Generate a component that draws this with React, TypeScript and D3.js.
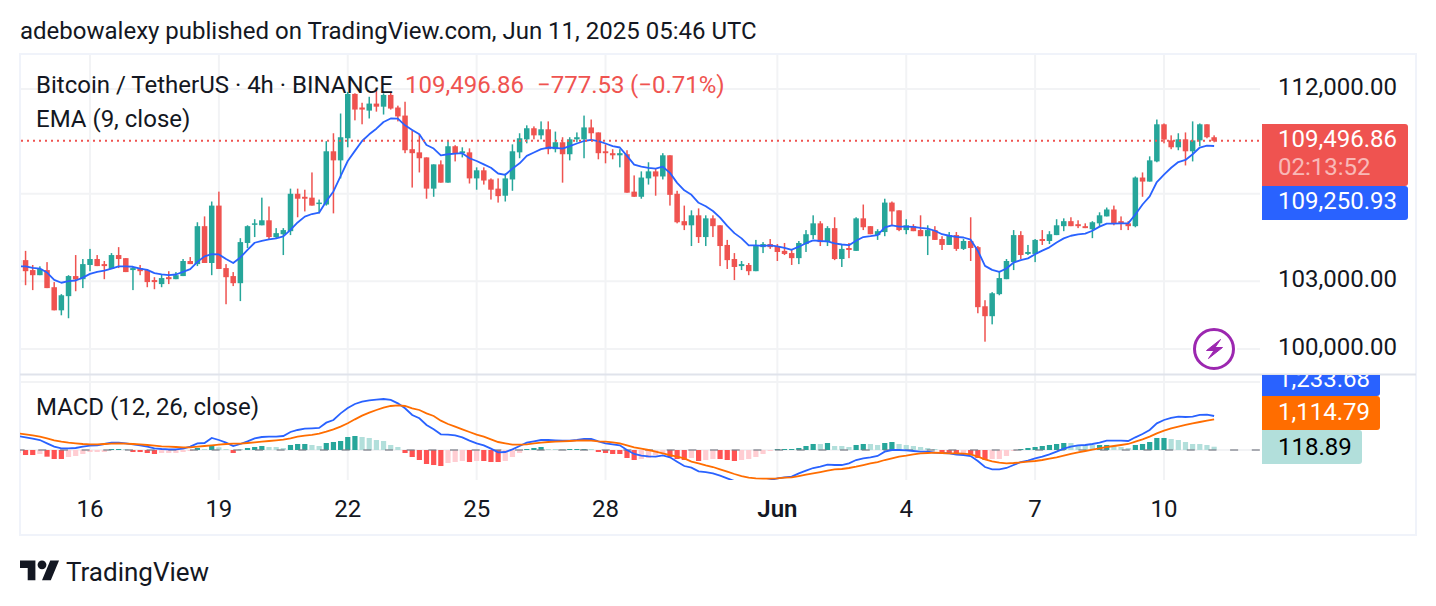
import React from "react";
import * as d3 from "d3";

const firstBar = -10;
const priceOpen = [
103670,103950,103500,103270,103500,102730,101700,102330,103230,103090,
103730,104000,103770,103550,104180,104040,103500,103590,103500,103050,
102870,103180,103090,103230,103910,103770,105500,103820,106450,103590,
103230,102910,104730,105590,105540,105770,105000,105130,105270,107000,
106860,106820,106540,106500,109000,108570,109620,111760,111100,110950,
111290,111140,111710,111100,110710,109100,108950,108710,107240,108380,
107520,109240,108910,108950,107720,108100,107670,107240,106910,107670,
108950,109570,110100,109760,110050,109100,109430,108860,109570,109570,
110140,109900,109000,108910,108810,108860,107100,106860,107720,108050,
107810,108810,107000,105730,105540,106000,105000,105860,105540,104640,
104000,103680,103730,103450,104540,104680,104590,104370,104270,104040,
104680,105090,105630,104770,105410,104000,104500,104370,105860,105500,
105090,105230,106590,106230,105320,105500,105320,105040,105320,104910,
104640,105090,104460,104820,104540,101880,101440,102420,103090,103860,
105090,104230,104230,104910,104820,105090,105500,105730,105590,105500,
105360,105630,105950,106270,105730,105630,105500,107760,107570,108520,
110290,109520,109190,109570,109000,109520,110290,109670];
const priceHigh = [
104000,104370,103730,103670,103860,102960,102420,103270,104180,104000,
104460,104180,103910,104270,104540,104040,103640,103730,103550,103180,
103320,103450,103410,104000,104090,105680,105950,106640,107100,103770,
103410,104950,105540,105820,106820,106410,105410,105410,107240,107240,
107190,108000,106730,109480,109860,110810,111860,111790,111330,111620,
111950,111790,111860,111190,111380,110000,109810,108710,108380,108570,
109520,109290,109190,109140,108240,108240,107720,107720,107950,109330,
109860,110240,110190,110430,110430,109940,109670,109670,109900,110710,
110520,109900,109330,109100,109100,109050,107860,108050,108480,108190,
108910,108810,107140,106450,106230,106320,106000,106000,105540,104870,
104270,103910,103820,104870,104770,104910,104680,104730,104460,104820,
105320,106000,105730,105500,105910,104640,104730,105910,106500,105500,
105360,106770,106640,106230,105820,105590,106000,105540,105500,105040,
105230,105230,104910,105910,104590,102150,102510,103410,104000,105320,
105270,104640,104910,105320,105270,105820,105860,105910,105770,105630,
105730,106140,106360,106450,105950,105730,107810,108000,108760,110520,
110330,109760,109860,109900,110430,110330,110290,109760];
const priceLow = [
103550,102820,102600,103270,102690,101700,101480,101350,102550,102690,
103450,103680,103090,103550,103590,103410,102600,103270,102730,102640,
102730,102870,103090,103230,103770,103680,103820,103270,103550,101970,
102780,102110,104500,105000,105540,104910,104910,104180,105090,105910,
106180,106450,106090,106450,106090,107720,109190,110480,110290,110570,
110900,110760,111000,110430,108910,107290,108000,106770,106860,107520,
107520,108520,108710,107480,107190,107430,106730,106590,106640,107140,
108670,109380,109570,109570,108860,108950,107520,108570,109430,108670,
109570,108620,108430,108620,108240,107050,106860,106770,107430,106910,
107670,106450,105630,105320,104590,104730,104590,105000,103680,103550,
103050,103500,103270,103450,104270,104460,103910,104180,103730,103770,
104320,104910,104590,104590,103950,103640,104040,104370,105320,105130,
104870,105040,105540,105270,105130,105270,105040,104180,104870,104410,
104640,104370,104410,103910,101570,100320,101080,102370,103090,103500,
104000,104180,103860,104640,104680,105090,105270,105500,105410,105410,
104950,105500,105950,105540,105320,105320,105450,106860,107570,108480,
109380,109100,109050,108330,108520,109240,109620,109430];
const priceClose = [
103950,103450,103270,103550,102690,101700,102370,103230,103080,103770,
104000,103680,103680,104180,104000,103410,103590,103450,102960,102960,
103140,103090,103270,103910,103770,105500,103820,106450,103550,103180,
102910,104770,105500,105630,105770,105000,105180,105320,107000,106770,
106770,106450,106590,109000,108570,109670,111760,111000,111000,111290,
111140,111710,111050,110670,109050,108910,108670,107240,108380,107520,
109240,108910,109000,107720,108100,107620,107190,106890,107720,109000,
109620,110100,109760,110050,109100,109430,108860,109570,109670,110140,
109860,108910,108910,108810,108910,107050,106860,107760,108050,107810,
108810,106950,105680,105540,106000,105000,105860,105500,104590,103950,
103640,103770,103450,104590,104680,104540,104320,104230,104040,104730,
105130,105630,104770,105410,104000,104460,104410,105860,105450,105130,
105270,106590,106180,105320,105540,105270,105040,105320,104870,104640,
105090,104460,104820,104500,101840,101440,102460,103140,103910,105090,
104180,104320,104870,104820,105130,105540,105730,105500,105500,105410,
105680,106000,106270,105630,105630,105500,107760,107570,108570,110290,
109560,109190,109570,109000,109520,110290,109670,109497];
const emaValues = [
103670,103670,103600,103570,103390,103060,102930,103000,103030,103160,
103330,103420,103480,103570,103670,103670,103650,103570,103510,103360,
103310,103270,103300,103420,103540,103870,104120,104220,104210,104000,
103820,104070,104420,104740,104830,104890,104940,105030,105330,105670,
105940,106060,106120,106650,107110,107830,108540,109020,109490,109810,
110080,110400,110570,110560,110240,110020,109810,109300,109130,108810,
108860,108890,108910,108670,108540,108380,108220,107950,107890,108180,
108430,108780,108940,109100,109180,109160,109130,109250,109370,109490,
109540,109480,109370,109250,109180,108780,108370,108270,108210,108180,
108270,107980,107510,107160,106950,106580,106420,106200,105890,105510,
105180,104940,104620,104620,104600,104620,104570,104510,104420,104560,
104720,104850,104820,104800,104710,104660,104630,104830,105000,105040,
105090,105440,105540,105480,105480,105470,105420,105390,105290,105130,
105060,105010,104980,104880,104380,103690,103510,103420,103570,103840,
103950,104030,104220,104380,104530,104750,104940,105060,105120,105160,
105290,105480,105620,105620,105630,105630,106040,106500,106880,107550,
107900,108220,108490,108590,108860,109180,109270,109251];
const macdValues = [
508,460,411,363,242,121,60,60,73,121,
157,169,218,266,266,242,206,169,121,60,
36,24,24,48,121,242,254,436,363,266,
145,218,315,424,472,484,484,508,653,726,
774,787,799,992,1089,1331,1525,1670,1755,1803,
1827,1851,1815,1694,1513,1271,1150,908,750,569,
557,532,460,339,242,169,48,-85,-73,24,
145,266,315,363,363,351,339,339,363,399,
399,315,242,206,169,0,-145,-206,-230,-242,
-194,-266,-424,-581,-641,-774,-799,-847,-932,-1029,
-1125,-1210,-1258,-1246,-1150,-1089,-1029,-992,-968,-847,
-750,-653,-605,-532,-545,-545,-484,-363,-303,-266,
-218,-61,0,0,-12,-36,-61,-61,-97,-109,
-121,-169,-182,-218,-399,-617,-702,-702,-653,-545,
-436,-387,-303,-242,-157,-61,48,121,169,182,
218,266,339,339,339,327,460,581,726,968,
1089,1162,1210,1198,1210,1271,1283,1234];
const signalValues = [
605,569,532,484,424,351,303,266,242,218,
206,206,218,230,242,230,218,206,182,157,
133,121,109,97,97,121,145,169,194,218,
230,230,254,278,303,327,351,375,424,484,
520,545,593,666,750,847,968,1113,1246,1355,
1452,1537,1597,1621,1597,1513,1452,1331,1234,1065,
944,847,750,653,557,484,387,290,242,194,
194,206,242,266,290,303,315,327,339,351,
339,315,303,278,242,169,97,48,0,-61,
-121,-182,-242,-303,-424,-484,-557,-617,-702,-787,
-871,-944,-1004,-1029,-1041,-1041,-1029,-1004,-992,-944,
-895,-847,-799,-750,-702,-690,-653,-605,-545,-484,
-436,-363,-303,-242,-206,-157,-121,-109,-97,-109,
-121,-121,-133,-157,-242,-339,-411,-460,-484,-472,
-448,-424,-399,-363,-315,-266,-206,-145,-85,-36,
12,61,109,145,182,218,303,387,484,605,
702,787,847,908,968,1016,1065,1115];
const histValues = [
-109,-182,-182,-145,-242,-327,-327,-254,-218,-145,
-73,-73,-73,36,36,36,-73,-73,-109,-145,
-109,-109,-109,-73,-36,73,36,145,97,36,
-109,36,73,109,145,109,109,73,182,218,
218,182,145,254,290,327,472,508,472,436,
363,327,182,109,-109,-254,-363,-508,-545,-581,
-472,-436,-399,-436,-399,-399,-436,-436,-399,-254,
-109,36,73,109,36,36,36,36,36,36,
36,-73,-109,-145,-145,-290,-363,-327,-290,-182,
-109,-254,-327,-363,-290,-399,-363,-327,-327,-363,
-399,-363,-327,-254,-145,-36,36,36,36,73,
145,218,218,254,145,145,109,182,218,218,
182,254,290,218,182,145,109,73,36,-109,
-109,-145,-109,-145,-290,-363,-327,-327,-218,-36,
36,73,109,145,182,218,254,254,182,182,
182,182,182,145,109,73,182,218,290,436,
436,399,363,290,218,218,182,119];
const histTone = (
"LSSLSSSLLL" + "LLLSSLSSSS" + "LLLLLSLSLL" + "SLSSSLLLSS" + "SLLSSSSSLL" +
"LLLLSSSSSS" + "LLLSLSSSLL" + "LSSSLLLSSS" + "LSSSSSSLLL" + "LSSSLSLLSS" +
"SLLLLLSSSS" + "SSLSLLLSSL" + "LSSLLLLLLS" + "SSLSSSLLLL" + "SSSSSSSLLL" +
"LSSLLLSSSS" + "SLLLLLLL").split("");
const timeTicks: [number, string, boolean][] = [
  [0, "16", false], [18, "19", false], [36, "22", false], [54, "25", false], [72, "28", false],
  [96, "Jun", true], [114, "4", false], [132, "7", false], [150, "10", false],
];
const priceTicks = [112000, 107000, 103000, 100000];
const priceLabels = ["112,000.00", "", "103,000.00", "100,000.00"];
const lastPrice = 109496.86;

const teal = "#26a69a", red = "#ef5350", redBar = "#ff5252", lightTeal = "#b2dfdb", lightRed = "#ffcdd2";
const ink = "#131722", grid = "#f2f3f5", FONT = "Roboto, sans-serif", FS = 24;
const labelX = 1278;

const x = d3.scaleLinear().domain([0, 150]).range([90, 1164]);
const y = d3.scaleLog().domain([100000, 112000]).range([349, 89]);
const yM = d3.scaleLinear().domain([0, 1233.68]).range([450, 416]);
const barsI = priceOpen.map((_, k) => k + firstBar);
const emaPath = d3.line<number>().x((_, k) => x(k + firstBar)).y((v) => y(v))(emaValues)!;
const macdLine = d3.line<number>().x((_, k) => x(k + firstBar)).y((v) => yM(v));

const T = (p: any) => <text fontFamily={FONT} fontSize={FS} fill={ink} dominantBaseline="central" {...p} />;

export default function App() {
  return (
    <svg width={1436} height={606} style={{ position: "absolute", left: 0, top: 0, background: "#fff" }}>
      <defs>
        <clipPath id="m"><rect x={20} y={375} width={1240} height={105} /></clipPath>
        <clipPath id="c"><rect x={21} y={55} width={1239} height={319} /></clipPath>
        <clipPath id="p"><rect x={1262} y={375} width={154} height={160} /></clipPath>
      </defs>
      <rect x={0} y={0} width={1436} height={606} fill="#fff" />
      <T x={20} y={31}>adebowalexy published on TradingView.com, Jun 11, 2025 05:46 UTC</T>
      <rect x={20} y={54} width={1396} height={481} fill="none" stroke="#f0f3fa" strokeWidth={2} />

      {timeTicks.map(([i]) => (
        <g key={i} stroke={grid} strokeWidth={2}>
          <line x1={x(i)} x2={x(i)} y1={55} y2={374} />
          <line x1={x(i)} x2={x(i)} y1={375} y2={480} />
        </g>
      ))}
      {priceTicks.map((p) => (
        <line key={p} x1={21} x2={1260} y1={y(p)} y2={y(p)} stroke={grid} strokeWidth={2} />
      ))}
      <line x1={21} x2={1260} y1={382} y2={382} stroke={grid} strokeWidth={2} />
      <line x1={21} x2={1260} y1={450} y2={450} stroke={grid} strokeWidth={2} />
      <line x1={20} x2={1416} y1={374.5} y2={374.5} stroke="#e0e3eb" strokeWidth={2} />

      <g clipPath="url(#c)">
        {barsI.map((i, k) => {
          const up = priceClose[k] >= priceOpen[k];
          const col = up ? teal : red;
          const top = y(Math.max(priceOpen[k], priceClose[k]));
          const bot = y(Math.min(priceOpen[k], priceClose[k]));
          return (
            <g key={i} fill={col}>
              <rect x={x(i) - 0.75} width={1.5} y={y(priceHigh[k])} height={Math.max(1, y(priceLow[k]) - y(priceHigh[k]))} />
              <rect x={x(i) - 2.75} width={5.5} y={top} height={Math.max(1.5, bot - top)} />
            </g>
          );
        })}
        <path d={emaPath} fill="none" stroke="#2962ff" strokeWidth={1.8} strokeLinejoin="round" />
      </g>
      <line x1={21} x2={1260} y1={y(lastPrice)} y2={y(lastPrice)} stroke={red} strokeWidth={2} strokeDasharray="2 4" />

      <g clipPath="url(#m)">
        {barsI.map((i, k) => {
          const v = histValues[k];
          const strong = histTone[k] === "S";
          const col = v >= 0 ? (strong ? teal : lightTeal) : strong ? redBar : lightRed;
          return (
            <rect key={i} x={x(i) - 2.6} width={5.2} y={Math.min(yM(v), yM(0))} height={Math.abs(yM(v) - yM(0))} fill={col} />
          );
        })}
        <line x1={16.6} x2={1260} y1={450} y2={450} stroke="rgb(120,123,134)" strokeOpacity={0.6} strokeWidth={2} strokeDasharray="8 13.67" />
        <path d={macdLine(macdValues)!} fill="none" stroke="#2962ff" strokeWidth={1.8} />
        <path d={macdLine(signalValues)!} fill="none" stroke="#ff6d00" strokeWidth={1.8} />
      </g>

      <T x={36} y={85}>Bitcoin / TetherUS · 4h · BINANCE</T>
      <T x={405} y={85} fill={red}>109,496.86</T>
      <T x={537} y={85} fill={red}>−777.53</T>
      <T x={630} y={85} fill={red}>(−0.71%)</T>
      <T x={36} y={119}>EMA (9, close)</T>
      <T x={36} y={407}>MACD (12, 26, close)</T>

      {priceTicks.map((p, k) =>
        priceLabels[k] ? <T key={p} x={labelX} y={y(p) - 2}>{priceLabels[k]}</T> : null
      )}

      <path d="M1262 124H1405a3 3 0 0 1 3 3V183a3 3 0 0 1 -3 3H1262Z" fill={red} />
      <T x={labelX} y={139} fill="#fff">109,496.86</T>
      <T x={labelX} y={167} fill="#fff" fillOpacity={0.6}>02:13:52</T>
      <path d="M1262 186H1405a3 3 0 0 1 3 3V217a3 3 0 0 1 -3 3H1262Z" fill="#2962ff" />
      <T x={labelX} y={201} fill="#fff">109,250.93</T>

      <g clipPath="url(#p)">
        <path d="M1262 362H1377a3 3 0 0 1 3 3V393a3 3 0 0 1 -3 3H1262Z" fill="#2962ff" />
        <T x={labelX} y={378.5} fill="#fff">1,233.68</T>
      </g>
      <path d="M1262 396H1377a3 3 0 0 1 3 3V427a3 3 0 0 1 -3 3H1262Z" fill="#ff6d00" />
      <T x={labelX} y={412} fill="#fff">1,114.79</T>
      <path d="M1262 430H1359a3 3 0 0 1 3 3V461a3 3 0 0 1 -3 3H1262Z" fill={lightTeal} />
      <T x={labelX} y={447} fill="#000">118.89</T>

      {timeTicks.map(([i, s, b]) => (
        <T key={i} x={x(i)} y={509} textAnchor="middle" fontWeight={b ? 600 : 400}>{s}</T>
      ))}

      <circle cx={1214} cy={349} r={23} fill="#fff" />
      <circle cx={1214} cy={349} r={19.5} fill="#fff" stroke="#9c27b0" strokeWidth={3} />
      <path d="M1220.5 339.5L1206.5 350.5H1214L1208.5 358.5L1222.5 347.5H1215Z" fill="#9c27b0" stroke="#9c27b0" strokeWidth={1} strokeLinejoin="round" />

      <g transform="translate(20,556) scale(1.1)" fill={ink}>
        <path d="M14 22H7V11H0V4h14v18zM28 22h-8l7.5-18h8L28 22z" />
        <circle cx={20} cy={8} r={4} />
      </g>
      <T x={66} y={572} fontSize={26}>TradingView</T>
    </svg>
  );
}
